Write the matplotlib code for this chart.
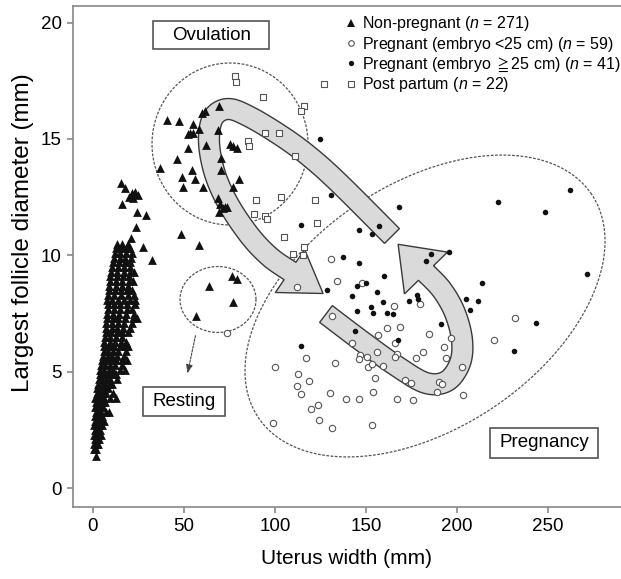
import numpy as np
import matplotlib
matplotlib.use('Agg')
import matplotlib.pyplot as plt
from matplotlib.patches import Polygon, Rectangle
from matplotlib.lines import Line2D

plt.rcParams['font.family'] = ['Liberation Sans', 'DejaVu Sans']
plt.rcParams['mathtext.fontset'] = 'custom'
plt.rcParams['mathtext.rm'] = 'Liberation Sans'
plt.rcParams['mathtext.it'] = 'Liberation Sans:italic'
plt.rcParams['mathtext.fallback'] = 'stix'

# ---- data (uterus width mm, largest follicle diameter mm) ----
# non-pregnant: dense column, rows of (y, [x...])
col_rows = [
    (1.4, [1.6]), (1.7, [0.8, 1.9]), (1.9, [0.6, 1.5, 2.6]), (2.1, [0.9, 2.0, 3.4]),
    (2.3, [0.7, 1.8, 3.0, 4.2]), (2.5, [1.0, 2.4, 3.8]), (2.7, [0.8, 2.0, 3.3, 5.2]),
    (2.9, [1.2, 2.6, 4.1, 6.0]), (3.1, [0.9, 2.2, 3.6, 5.0]), (3.3, [1.4, 3.0, 4.6, 7.2, 8.6]),
    (3.5, [1.1, 2.6, 4.0, 5.6]), (3.7, [1.6, 3.2, 5.0, 6.8]), (3.9, [1.3, 2.9, 4.4, 6.2, 9.5, 12.8]),
    (4.1, [2.0, 3.7, 5.4, 7.4, 11.0]), (4.3, [2.4, 4.2, 6.0, 8.2]), (4.5, [2.8, 4.8, 6.6, 8.8, 10.5]),
    (4.7, [3.2, 5.2, 7.2, 9.6, 13.0]), (4.9, [3.6, 5.8, 8.0, 10.4, 12.5]),
    (5.1, [4.0, 6.2, 8.6, 11.2, 14.8, 17.5]), (5.3, [4.4, 6.8, 9.2, 12.0, 15.8]),
    (5.5, [5.0, 7.4, 9.8, 12.6, 16.2, 18.6]), (5.7, [5.4, 8.0, 10.6, 13.4, 17.0]),
    (5.9, [5.8, 8.4, 11.2, 14.0, 18.0]), (6.1, [6.0, 8.8, 11.6, 14.6, 17.4, 19.5]),
    (6.3, [6.2, 9.2, 12.2, 15.2, 18.4]), (6.5, [6.6, 9.6, 12.6, 15.8]),
    (6.7, [7.0, 10.0, 13.0, 16.0, 19.0]), (6.9, [7.2, 10.4, 13.4, 16.6, 20.5]),
    (7.1, [7.4, 10.6, 13.6, 17.0, 21.2]), (7.3, [7.6, 10.8, 14.0, 17.6, 22.0, 24.4]),
    (7.5, [7.8, 11.0, 14.4, 18.2, 22.6]), (7.7, [8.0, 11.4, 14.8, 18.6, 21.4]),
    (7.9, [8.2, 11.6, 15.0, 18.8, 23.0]), (8.1, [7.6, 10.4, 13.6, 16.8, 20.2, 23.2]),
    (8.3, [8.4, 11.8, 15.2, 19.0, 22.4]), (8.5, [8.8, 12.0, 15.4, 18.8, 21.6]),
    (8.7, [9.0, 12.4, 15.8, 19.2]), (8.9, [9.2, 12.8, 16.2, 19.6, 22.0]),
    (9.1, [9.6, 13.0, 16.4, 19.8]), (9.3, [10.0, 13.4, 16.8, 20.2, 22.6]),
    (9.5, [10.4, 13.8, 17.2, 20.4]), (9.7, [10.8, 14.2, 17.4, 20.6]),
    (9.9, [11.4, 14.6, 17.8, 21.0]), (10.1, [12.0, 15.0, 18.0, 21.2]),
    (10.3, [12.6, 15.4, 18.4, 20.6]), (10.5, [13.4, 16.0, 19.0]),
]
np_extra_x = [15.4, 21.3, 23.1, 24.9, 19.9, 22.1, 15.8, 24.4, 23.6, 20.9, 29.1, 27.6, 32.2, 17.5,
              40.5, 47.3, 55.1, 59.7, 61.5, 69.4, 53.3, 52.0, 54.8, 58.4, 68.9, 52.0, 62.1,
              75.3, 76.8, 79.3, 46.0, 70.3, 36.8, 54.2, 70.3, 48.7, 56.0, 49.6, 60.6, 76.8, 80.4,
              68.9, 69.8, 72.5, 69.4, 71.6, 73.5, 48.2, 58.4,
              63.9, 76.2, 79.0, 76.7, 56.6]
np_extra_y = [13.09, 12.66, 12.73, 12.59, 12.52, 12.45, 12.23, 11.87, 11.23, 10.73, 11.74, 10.37, 9.8, 12.9,
              15.8, 15.76, 15.63, 16.1, 16.2, 16.4, 15.26, 15.2, 15.26, 15.45, 15.4, 14.63, 14.76,
              14.8, 14.7, 14.6, 14.16, 14.19, 13.76, 13.69, 13.69, 13.35, 13.3, 12.94, 12.94, 12.94, 13.27,
              12.45, 12.23, 12.09, 11.87, 12.02, 12.09, 10.94, 10.44,
              8.7, 9.1, 9.0, 8.0, 7.4]

preg_small_x = [130.8, 134.2, 112.3, 73.8, 131.1, 161.4, 168.7, 156.8, 142.5, 165.9, 166.8, 165.9,
                117.0, 146.7, 150.4, 155.9, 133.2, 100.0, 146.3, 151.3, 153.1, 159.2, 112.8, 154.8,
                118.5, 111.9, 114.3, 130.2, 153.6, 138.8, 146.2, 167.0, 123.8, 119.6, 124.2, 131.1,
                153.1, 98.7, 171.5, 174.7, 176.0, 147.6, 165.6, 179.7, 184.8, 196.5, 193.0, 194.0,
                181.5, 177.5, 220.5, 232.0, 202.6, 190.3, 191.6, 188.8, 203.5]
preg_small_y = [9.83, 8.91, 8.65, 6.68, 7.38, 6.87, 6.94, 6.58, 6.22, 6.22, 5.79, 5.62,
                5.61, 5.72, 5.65, 5.86, 5.39, 5.22, 5.55, 5.19, 5.33, 5.26, 4.90, 4.75,
                4.63, 4.39, 4.06, 4.08, 4.13, 3.83, 3.83, 3.84, 3.57, 3.39, 2.93, 2.58,
                2.72, 2.79, 4.65, 4.53, 3.79, 8.83, 7.82, 7.91, 6.61, 6.44, 6.08, 5.58,
                5.86, 5.58, 6.36, 7.30, 5.19, 4.58, 4.48, 4.15, 4.03]

preg_large_x = [124.5, 131.0, 114.3, 168.3, 222.7, 248.6, 262.0, 146.3, 153.3, 157.3, 271.6, 195.8,
                185.5, 183.0, 160.0, 213.7, 156.3, 159.1, 173.5, 177.9, 178.7, 204.9, 211.7, 207.1,
                152.7, 153.7, 161.5, 164.7, 191.0, 243.3, 167.5, 231.4, 137.5, 146.3, 128.6, 142.5,
                145.0, 150.0, 145.2, 144.0, 114.4]
preg_large_y = [15.0, 12.6, 11.3, 12.1, 12.3, 11.85, 12.8, 11.1, 10.94, 11.28, 9.2, 10.15,
                10.06, 9.77, 9.12, 8.82, 8.41, 8.0, 8.05, 8.3, 8.11, 8.12, 8.05, 7.65,
                7.8, 7.54, 7.52, 7.47, 7.07, 7.08, 6.37, 5.9, 9.94, 9.66, 8.53, 8.27,
                8.7, 8.81, 7.6, 6.75, 6.1]

post_x = [78.0, 78.6, 126.9, 93.2, 116.1, 114.1, 94.5, 102.4, 85.3, 85.9, 111.2, 89.6,
          103.3, 122.0, 88.6, 94.5, 95.4, 123.2, 104.9, 115.9, 109.7, 115.2]
post_y = [17.7, 17.45, 17.35, 16.8, 16.4, 16.2, 15.26, 15.26, 14.9, 14.7, 14.26, 12.4,
          12.5, 12.37, 11.8, 11.7, 11.55, 11.4, 10.8, 10.37, 10.06, 10.0]

labels = ['Non-pregnant ($n$ = 271)',
          'Pregnant (embryo <25 cm) ($n$ = 59)',
          'Pregnant (embryo $\\geqq$25 cm) ($n$ = 41)',
          'Post partum ($n$ = 22)']

np_x = [x for y, xs in col_rows for x in xs] + np_extra_x
np_y = [y for y, xs in col_rows for x in xs] + np_extra_y

W, H = 621, 579
fig = plt.figure(figsize=(W / 100, H / 100), dpi=100)
ax = fig.add_axes([72.7 / W, 1 - 507 / H, (W - 72.7) / W, (507 - 6) / H])
ax.set_xlim(-11.15, 290.1)
ax.set_ylim(-0.80, 20.71)

ax.spines['right'].set_visible(False)
for s in ['left', 'bottom', 'top']:
    ax.spines[s].set_color('#888888')
    ax.spines[s].set_linewidth(1.2)
ax.set_xticks([0, 50, 100, 150, 200, 250])
ax.set_yticks([0, 5, 10, 15, 20])
ax.tick_params(direction='out', length=4, width=1.2, color='#888888', labelsize=13.5, pad=4)
ax.set_xlabel('Uterus width (mm)', fontsize=15, labelpad=10)
ax.set_ylabel('Largest follicle diameter (mm)', fontsize=17.5)
ax.yaxis.set_label_coords(-0.07, 0.547)


def px2data(pts):
    pts = np.asarray(pts, float)
    disp = np.column_stack([pts[:, 0], H - pts[:, 1]])
    return ax.transData.inverted().transform(disp)


def smooth(pts, n=14):
    pts = np.asarray(pts, float)
    p = np.vstack([pts[0], pts, pts[-1]])
    out = []
    for i in range(1, len(p) - 2):
        p0, p1, p2, p3 = p[i - 1], p[i], p[i + 1], p[i + 2]
        for t in np.linspace(0, 1, n, endpoint=False):
            out.append(0.5 * (2 * p1 + (-p0 + p2) * t + (2 * p0 - 5 * p1 + 4 * p2 - p3) * t ** 2
                              + (-p0 + 3 * p1 - 3 * p2 + p3) * t ** 3))
    out.append(pts[-1])
    return np.array(out)


def band_arrow(ctrl, hw, hh, hl):
    c = smooth(ctrl)
    d = np.gradient(c, axis=0)
    d /= np.linalg.norm(d, axis=1)[:, None]
    nrm = np.column_stack([-d[:, 1], d[:, 0]])
    left = c + hw * nrm
    right = c - hw * nrm
    e, de, ne = c[-1], d[-1], nrm[-1]
    head = [e + hh * ne, e + hl * de, e - hh * ne]
    poly = np.vstack([left, head, right[::-1]])
    ax.add_patch(Polygon(px2data(poly), closed=True, facecolor='#dadada',
                         edgecolor='#3a3a3a', lw=1.0, zorder=2))


def px_ellipse(cx, cy, a, b, ang):
    t = np.linspace(0, 2 * np.pi, 300)
    th = np.deg2rad(ang)
    x = cx + a * np.cos(t) * np.cos(th) - b * np.sin(t) * np.sin(th)
    y = cy - (a * np.cos(t) * np.sin(th) + b * np.sin(t) * np.cos(th))
    return np.column_stack([x, y])


dash = (0, (2.2, 1.2))
# ovulation circle, resting ellipse, pregnancy ellipse (drawn in pixel space)
for cx, cy, a, b, ang in [(230, 144, 78, 81, 0), (218, 299.5, 38, 33, 0), (425, 306, 200.6, 122.3, 33.8)]:
    ax.plot(*px2data(px_ellipse(cx, cy, a, b, ang)).T, color='#555555', lw=0.9,
            linestyle=dash, zorder=1)

# arrows
band_arrow([(392, 236), (340, 184), (310, 157), (283, 137), (250, 117), (228, 109),
            (213, 118), (209, 142), (215, 174), (229, 205), (250, 236), (270, 257), (290, 271)],
           10.5, 26, 40)
band_arrow([(326, 314), (363, 342), (398, 367), (426, 383), (447, 381), (460, 363),
            (462, 340), (455, 313), (442, 290), (426, 273)],
           10.5, 30, 40)

# resting pointer
p = px2data([(196, 333), (187, 376)])
ax.annotate('', xy=p[1], xytext=p[0],
            arrowprops=dict(arrowstyle='-|>,head_length=0.5,head_width=0.2', color='#444444',
                            lw=0.8, linestyle=(0, (2, 1.2))), zorder=2)

# points
ax.scatter(np_x, np_y, marker='^', s=40, color='#111111', linewidths=0, zorder=4)
ax.scatter(preg_small_x, preg_small_y, marker='o', s=21, facecolors='white',
           edgecolors='#555555', linewidths=0.8, zorder=4)
ax.scatter(preg_large_x, preg_large_y, marker='o', s=16, color='#111111', linewidths=0, zorder=4)
ax.scatter(post_x, post_y, marker='s', s=24, facecolors='white',
           edgecolors='#555555', linewidths=0.8, zorder=4)

# label boxes (pixel extents -> data)
for text, (x0, y0, x1, y1) in [('Ovulation', (153.3, 21, 269.3, 49.3)),
                               ('Resting', (143.3, 386.7, 225, 415.7)),
                               ('Pregnancy', (490, 427.7, 598.3, 457.7))]:
    (dx0, dy1), (dx1, dy0) = px2data([(x0, y0), (x1, y1)])
    ax.add_patch(Rectangle((dx0, dy0), dx1 - dx0, dy1 - dy0, facecolor='white',
                           edgecolor='#555555', lw=1.2, zorder=5))
    ax.text((dx0 + dx1) / 2, (dy0 + dy1) / 2, text, ha='center', va='center',
            fontsize=13.5, zorder=6)

handles = [
    Line2D([], [], marker='^', linestyle='none', markersize=5.5, color='#111111', markeredgewidth=0),
    Line2D([], [], marker='o', linestyle='none', markersize=4, markerfacecolor='white',
           markeredgecolor='#555555', markeredgewidth=0.8),
    Line2D([], [], marker='o', linestyle='none', markersize=3.8, color='#111111', markeredgewidth=0),
    Line2D([], [], marker='s', linestyle='none', markersize=4.4, markerfacecolor='white',
           markeredgecolor='#555555', markeredgewidth=0.8),
]
ax.legend(handles, labels, loc='upper left', bbox_to_anchor=(0.49, 0.99), frameon=False,
          fontsize=11.5, handlelength=0.8, handletextpad=0.3, labelspacing=0.1,
          borderpad=0.2, borderaxespad=0.0)

fig.savefig('out.png', dpi=100)
